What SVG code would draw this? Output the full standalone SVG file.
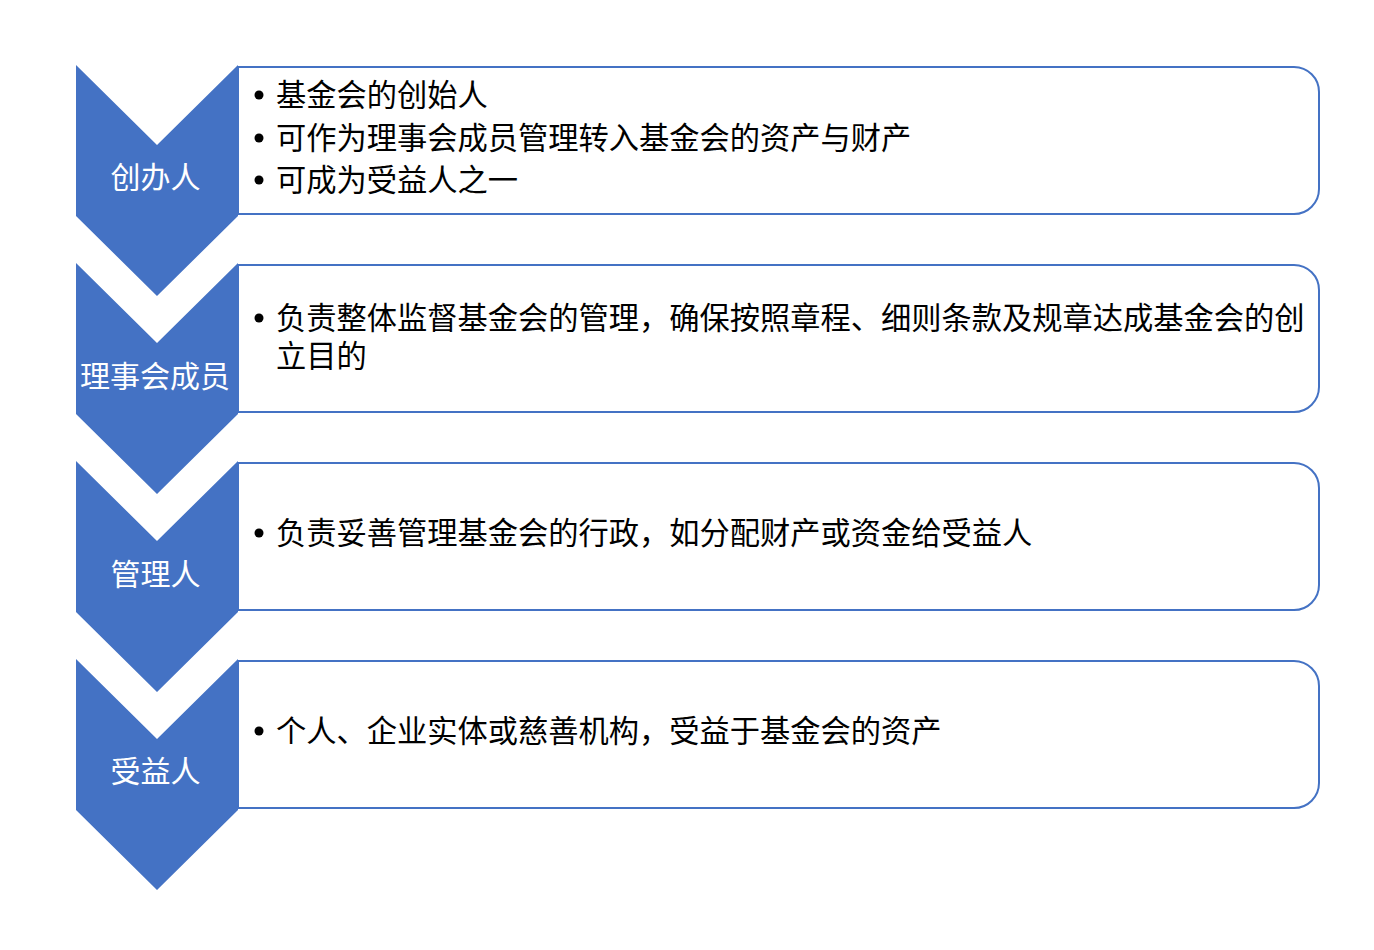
<svg xmlns="http://www.w3.org/2000/svg" width="1374" height="950" viewBox="0 0 1374 950">
<style>
.box{fill:#FFFFFF;stroke:#4472C4;stroke-width:2}
.chev{fill:#4472C4}
.lbl{font-family:"Noto Sans CJK SC","Noto Sans",sans-serif;font-size:30px;fill:#FFFFFF;text-anchor:middle}
.txt{font-family:"Noto Sans CJK SC","Noto Sans",sans-serif;font-size:30.25px;fill:#000000}
.dot{fill:#000000}
</style>
<rect width="1374" height="950" fill="#FFFFFF"/>
<g id="step1">
<path class="box" d="M238,67 H1294 A25,25 0 0 1 1319,92 V189 A25,25 0 0 1 1294,214 H238 Z"/>
<path class="chev" d="M76,65 L157,145 L238,65 L238,216 L157,296 L76,216 Z"/>
<text class="lbl" x="155.5" y="188">创办人</text>
<circle class="dot" cx="259" cy="95" r="4.5"/>
<circle class="dot" cx="259" cy="138" r="4.5"/>
<circle class="dot" cx="259" cy="180" r="4.5"/>
<text class="txt" x="276" y="106">基金会的创始人</text>
<text class="txt" x="276" y="149">可作为理事会成员管理转入基金会的资产与财产</text>
<text class="txt" x="276" y="191">可成为受益人之一</text>
</g>
<g id="step2">
<path class="box" d="M238,265 H1294 A25,25 0 0 1 1319,290 V387 A25,25 0 0 1 1294,412 H238 Z"/>
<path class="chev" d="M76,263 L157,343 L238,263 L238,414 L157,494 L76,414 Z"/>
<text class="lbl" x="155" y="387">理事会成员</text>
<circle class="dot" cx="259" cy="318" r="4.5"/>
<text class="txt" x="276" y="329">负责整体监督基金会的管理，确保按照章程、细则条款及规章达成基金会的创</text>
<text class="txt" x="276" y="367">立目的</text>
</g>
<g id="step3">
<path class="box" d="M238,463 H1294 A25,25 0 0 1 1319,488 V585 A25,25 0 0 1 1294,610 H238 Z"/>
<path class="chev" d="M76,461 L157,541 L238,461 L238,612 L157,692 L76,612 Z"/>
<text class="lbl" x="155.5" y="585">管理人</text>
<circle class="dot" cx="259" cy="533" r="4.5"/>
<text class="txt" x="276" y="544">负责妥善管理基金会的行政，如分配财产或资金给受益人</text>
</g>
<g id="step4">
<path class="box" d="M238,661 H1294 A25,25 0 0 1 1319,686 V783 A25,25 0 0 1 1294,808 H238 Z"/>
<path class="chev" d="M76,659 L157,739 L238,659 L238,810 L157,890 L76,810 Z"/>
<text class="lbl" x="155.5" y="782">受益人</text>
<circle class="dot" cx="259" cy="731" r="4.5"/>
<text class="txt" x="276" y="742">个人、企业实体或慈善机构，受益于基金会的资产</text>
</g>
<g id="connectors"/>
</svg>
